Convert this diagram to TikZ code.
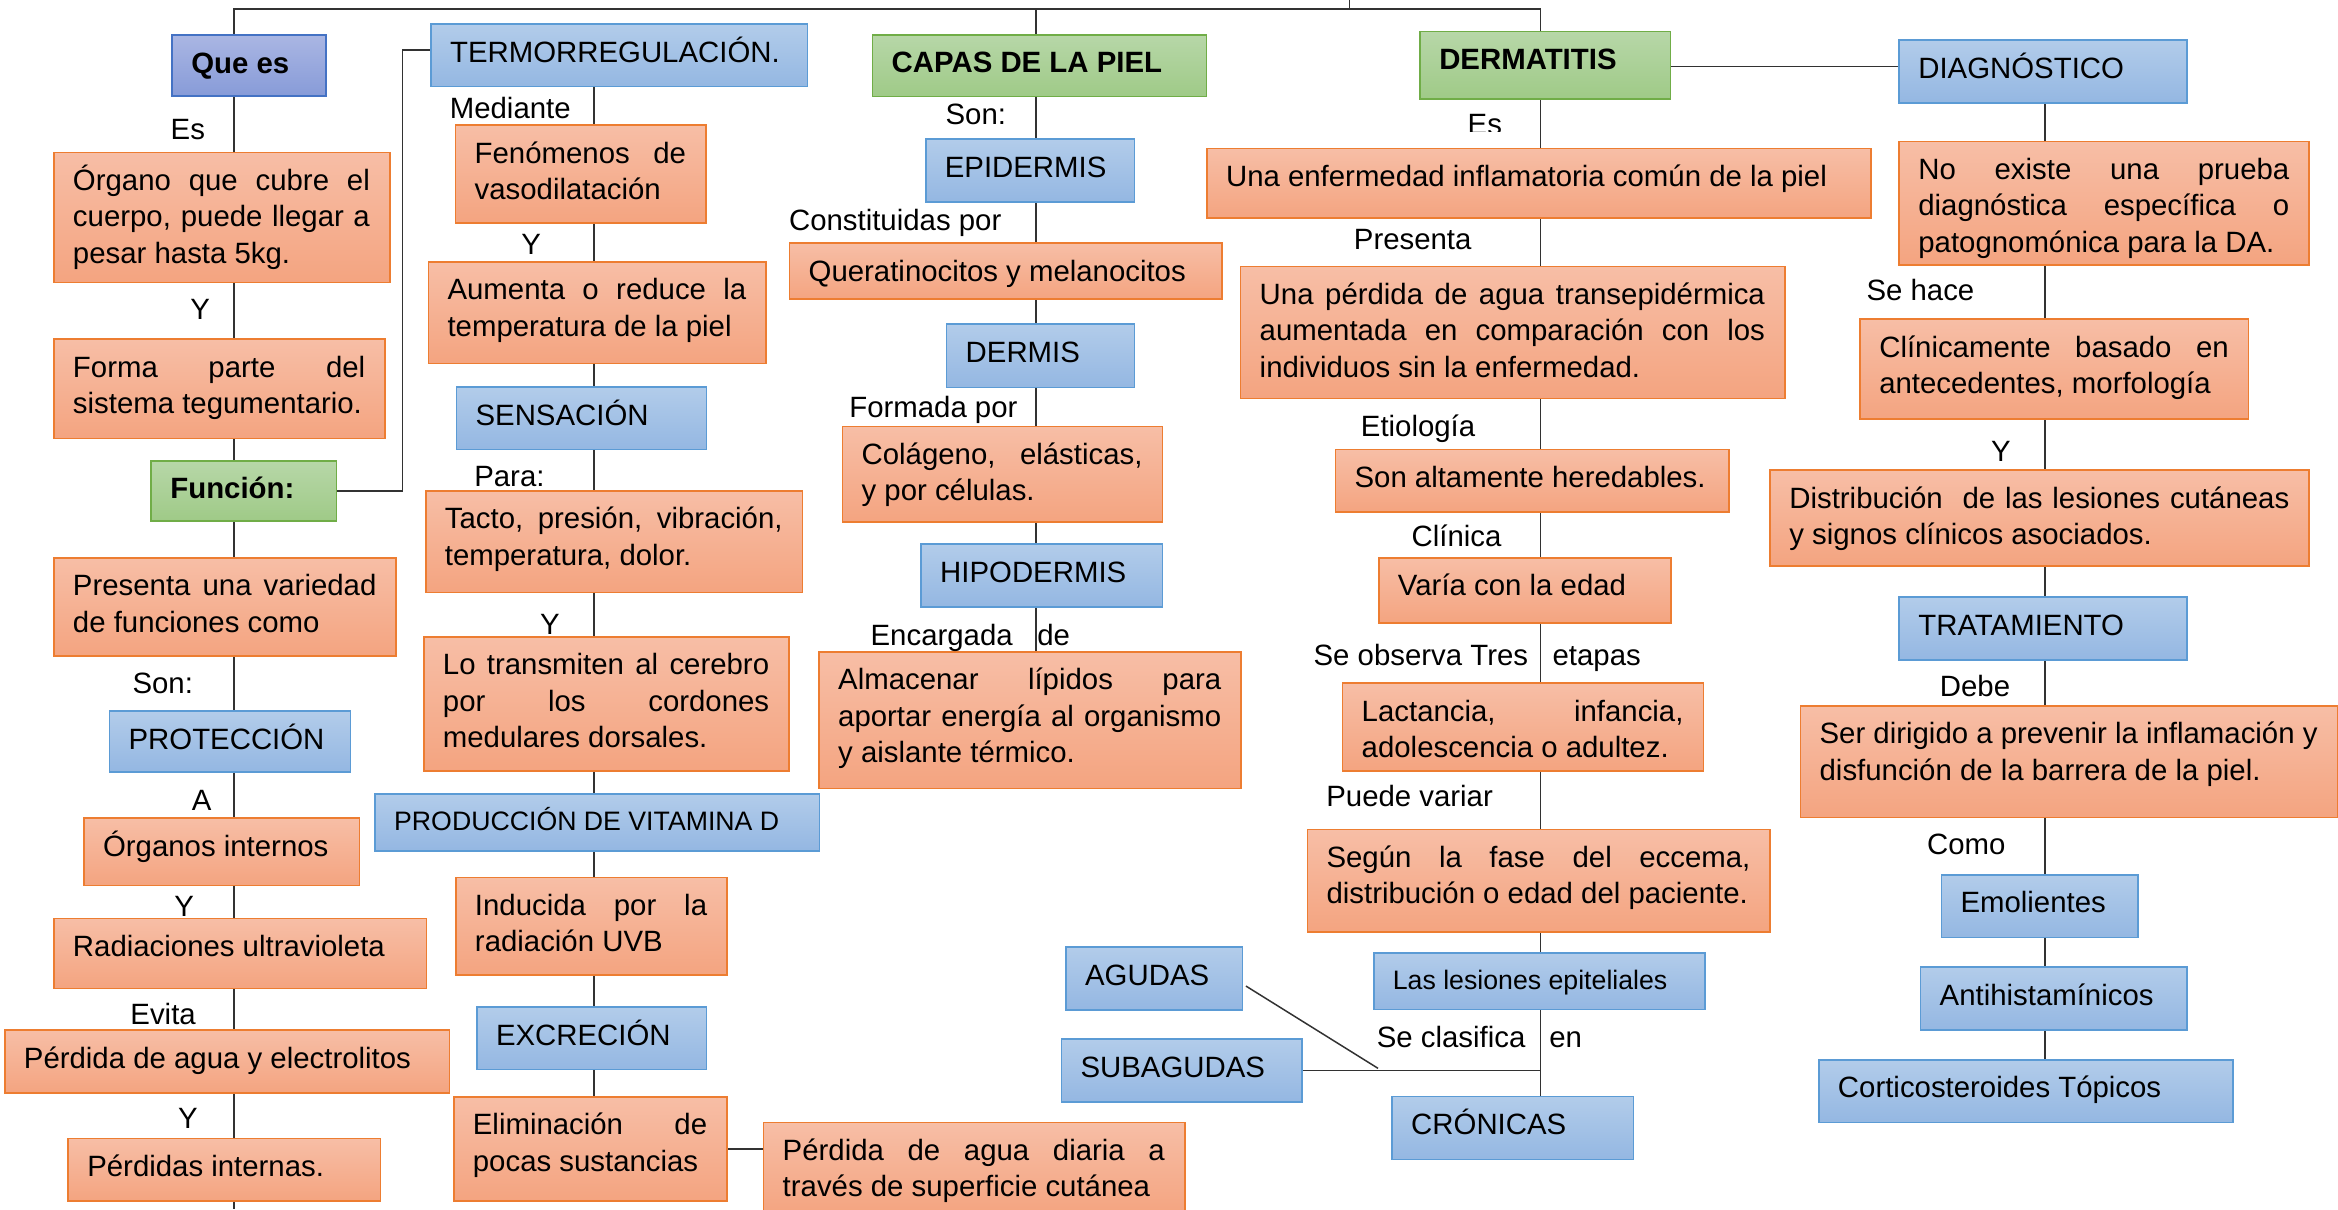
\documentclass[tikz,border=0pt]{standalone}
\usepackage{fontspec}
\setmainfont{Liberation Sans}
\usetikzlibrary{calc}
\pgfdeclarelayer{bg}
\pgfsetlayers{bg,main}
\definecolor{orT}{RGB}{247,190,166}
\definecolor{orB}{RGB}{244,164,128}
\definecolor{orD}{RGB}{237,125,49}
\definecolor{blT}{RGB}{178,204,234}
\definecolor{blB}{RGB}{148,183,226}
\definecolor{blD}{RGB}{91,155,213}
\definecolor{grT}{RGB}{183,215,168}
\definecolor{grB}{RGB}{159,202,135}
\definecolor{grD}{RGB}{112,173,71}
\definecolor{inT}{RGB}{170,182,227}
\definecolor{inB}{RGB}{135,155,216}
\definecolor{inD}{RGB}{68,114,196}
\definecolor{lineC}{RGB}{50,50,50}
\newlength\bxw
\newlength\bxh
\newcommand\jline[1]{\hbox to\hsize{\hskip12.8pt\strut#1\hskip13.3pt}}
\newcommand\rline[1]{\hbox{\hskip12.8pt\strut#1}}
\newcommand\cbox[7][]{%
  \setlength\bxw{\dimexpr#5pt-#3pt\relax}%
  \setlength\bxh{\dimexpr#6pt-#4pt\relax}%
  \node[cb,#1,anchor=north west] (#2) at (#3,#4) {\parbox[t][\bxh][t]{\bxw}{\hrule height0pt width\hsize\vskip8.5pt #7}};%
}
\tikzset{
  cb/.style={inner sep=0pt, line width=1.1pt, font=\fontsize{19.7}{24.3}\selectfont},
  orb/.style={top color=orT, bottom color=orB, draw=orD},
  blb/.style={top color=blT, bottom color=blB, draw=blD},
  grb/.style={top color=grT, bottom color=grB, draw=grD},
  inb/.style={top color=inT, bottom color=inB, draw=inD},
  smallfont/.style={font=\fontsize{17.9}{24.3}\selectfont},
  lbl/.style={inner sep=0pt, anchor=base west, font=\fontsize{19.7}{24.3}\selectfont},
  conn/.style={line width=1pt, draw=lineC},
}
\begin{document}
\begin{tikzpicture}[x=1pt,y=-1pt]
\useasboundingbox (0,0) rectangle (1568,811);
% spine coordinates
\coordinate (sL) at (157,0);
\coordinate (sM) at (398.5,0);
\coordinate (sC) at (694.8,0);
\coordinate (sD) at (1033,0);
\coordinate (sR) at (1371.4,0);
\coordinate (tt) at (905,0);
\coordinate (tj) at (905,6);
\coordinate (bot) at (0,811);
\coordinate (fj) at (270,33.5);
\coordinate (dj) at (0,44.7);
\coordinate (cj) at (924.2,716.5);

% ---------- left column
\cbox[inb]{quees}{115}{23}{218}{64}{\rline{\bfseries Que es}}
\cbox[orb]{organo}{35.6}{101.7}{260.8}{188.9}{\jline{Órgano que cubre el}\jline{cuerpo, puede llegar a}\rline{pesar hasta 5kg.}}
\cbox[orb]{forma}{35.6}{226.9}{257.7}{293.5}{\jline{Forma parte del}\rline{sistema tegumentario.}}
\cbox[grb]{func}{100.9}{308.5}{225.2}{349}{\rline{\bfseries Función:}}
\cbox[orb]{presenta}{35.6}{373.6}{265.2}{439.5}{\jline{Presenta una variedad}\rline{de funciones como}}
\cbox[blb]{protec}{72.9}{476.3}{234.4}{517.1}{\rline{PROTECCIÓN}}
\cbox[orb]{orgint}{55.8}{548.2}{240.6}{593.3}{\rline{Órganos internos}}
\cbox[orb]{radiac}{35.6}{615.5}{285.4}{662.4}{\rline{Radiaciones ultravioleta}}
\cbox[orb]{perdagua}{2.7}{690.2}{300.8}{732.6}{\rline{Pérdida de agua y electrolitos}}
\cbox[orb]{perdint}{45.2}{763}{254.6}{804.8}{\rline{Pérdidas internas.}}

% ---------- middle-left column
\cbox[blb]{termo}{288.5}{15.6}{541}{57.5}{\rline{TERMORREGULACIÓN.}}
\cbox[orb]{fenom}{305}{83.4}{472.9}{149}{\jline{Fenómenos de}\rline{vasodilatación}}
\cbox[orb]{aumenta}{286.8}{175}{513.3}{243.3}{\jline{Aumenta o reduce la}\rline{temperatura de la piel}}
\cbox[blb]{sensac}{305.6}{258.9}{473.2}{301}{\rline{SENSACIÓN}}
\cbox[orb]{tacto}{285}{328.6}{537.6}{396.8}{\jline{Tacto, presión, vibración,}\rline{temperatura, dolor.}}
\cbox[orb]{transm}{283.7}{426.5}{528.6}{516.4}{\jline{Lo transmiten al cerebro}\jline{por los cordones}\rline{medulares dorsales.}}
\cbox[blb,smallfont]{produc}{251}{532}{549}{570}{\vskip-1.2pt\rline{PRODUCCIÓN DE VITAMINA D}}
\cbox[orb]{induc}{305.2}{588}{487}{653.3}{\jline{Inducida por la}\rline{radiación UVB}}
\cbox[blb]{excrec}{319.3}{674.7}{473.3}{716.8}{\rline{EXCRECIÓN}}
\cbox[orb]{elim}{303.8}{735}{487}{804.8}{\jline{Eliminación de}\rline{pocas sustancias}}
\cbox[orb]{diaria}{511.6}{752.3}{794}{814}{\jline{Pérdida de agua diaria a}\rline{través de superficie cutánea}}

% ---------- capas column
\cbox[grb]{capas}{584.7}{22.8}{808.5}{64.2}{\rline{\bfseries CAPAS DE LA PIEL}}
\cbox[blb]{epid}{620.3}{92.8}{760.3}{134.8}{\rline{EPIDERMIS}}
\cbox[orb]{querat}{529}{162.5}{818.8}{200}{\rline{Queratinocitos y melanocitos}}
\cbox[blb]{dermis}{634.3}{216.8}{760.3}{259.4}{\rline{DERMIS}}
\cbox[orb]{colag}{564.5}{285.5}{779}{349.7}{\jline{Colágeno, elásticas,}\rline{y por células.}}
\cbox[blb]{hipo}{617.2}{364.4}{779}{406.4}{\rline{HIPODERMIS}}
\cbox[orb]{almac}{548.8}{436.6}{831.8}{528.3}{\jline{Almacenar lípidos para}\jline{aportar energía al organismo}\rline{y aislante térmico.}}

% ---------- dermatitis column
\cbox[grb]{derm}{951.9}{20.6}{1119.8}{65.9}{\rline{\bfseries DERMATITIS}}
\cbox[orb]{enferm}{808.9}{99}{1254.3}{145.8}{\rline{Una enfermedad inflamatoria común de la piel}}
\cbox[orb]{perdtr}{831.5}{178.2}{1196.4}{266.7}{\jline{Una pérdida de agua transepidérmica}\jline{aumentada en comparación con los}\rline{individuos sin la enfermedad.}}
\cbox[orb]{hered}{895.1}{300.9}{1158.8}{342.7}{\rline{Son altamente heredables.}}
\cbox[orb]{varia}{924.2}{373.6}{1120.2}{417.2}{\rline{Varía con la edad}}
\cbox[orb]{lact}{899.9}{457.6}{1141.8}{516.4}{\jline{Lactancia, infancia,}\rline{adolescencia o adultez.}}
\cbox[orb]{segun}{876.3}{555.8}{1186.7}{624.6}{\jline{Según la fase del eccema,}\rline{distribución o edad del paciente.}}
\cbox[blb,smallfont]{lesion}{920.8}{638.5}{1143.1}{676.5}{\vskip-0.8pt\rline{Las lesiones epiteliales}}
\cbox[blb]{agudas}{714.4}{634.7}{832.8}{677}{\rline{AGUDAS}}
\cbox[blb]{subag}{711.3}{696.4}{872.8}{738.7}{\rline{SUBAGUDAS}}
\cbox[blb]{cronic}{933.1}{734.9}{1094.9}{777.1}{\rline{CRÓNICAS}}

% ---------- right column
\cbox[blb]{diag}{1273.2}{26.2}{1466.3}{68.4}{\rline{DIAGNÓSTICO}}
\cbox[orb]{noex}{1273.2}{94.4}{1548.1}{177.1}{\jline{No existe una prueba}\jline{diagnóstica específica o}\rline{patognomónica para la DA.}}
\cbox[orb]{clinic}{1247}{213.5}{1507.5}{280.6}{\jline{Clínicamente basado en}\rline{antecedentes, morfología}}
\cbox[orb]{distrib}{1186.7}{314.8}{1548.1}{379.2}{\jline{Distribución\ \ de las lesiones cutáneas}\rline{y signos clínicos asociados.}}
\cbox[blb]{tratam}{1273.2}{400}{1466.3}{442.2}{\rline{TRATAMIENTO}}
\cbox[orb]{serdir}{1207}{472.8}{1567.5}{547.7}{\rline{Ser dirigido a prevenir la inflamación y}\rline{disfunción de la barrera de la piel.}}
\cbox[blb]{emol}{1301.5}{586.2}{1433.3}{628.2}{\rline{Emolientes}}
\cbox[blb]{antih}{1287.5}{648.1}{1466.3}{690.4}{\rline{Antihistamínicos}}
\cbox[blb]{cortic}{1219.3}{710.3}{1497.2}{752.3}{\rline{Corticosteroides Tópicos}}

% ---------- labels
\node[lbl] (l1) at (114.3,93.4) {Es};
\node[lbl] (l2) at (127.5,214) {Y};
\node[lbl] (l3) at (88.7,465) {Son:};
\node[lbl] (l4) at (128.5,543.3) {A};
\node[lbl] (l5) at (116.8,614.8) {Y};
\node[lbl] (l6) at (87.3,687.4) {Evita};
\node[lbl] (l7) at (119.2,756.7) {Y};
\node[lbl] (l8) at (301.5,79.4) {Mediante};
\node[lbl] (l9) at (349.5,171) {Y};
\node[lbl] (l10) at (317.9,326.4) {Para:};
\node[lbl] (l11) at (362.1,425.2) {Y};
\node[lbl] (l12) at (634,83.8) {Son:};
\node[lbl] (l13) at (529,154.7) {Constituidas por};
\node[lbl] (l14) at (569.4,279.9) {Formada por};
\node[lbl] (l15) at (583.7,432.6) {Encargada\hspace{16.5pt}de};
\begin{scope}
\clip (960,60) rectangle (1030,88.3);
\node[lbl] (l16) at (984.1,90.5) {Es};
\end{scope}
\node[lbl] (l17) at (907.8,167.2) {Presenta};
\node[lbl] (l18) at (912.5,292.9) {Etiología};
\node[lbl] (l19) at (946.5,366.2) {Clínica};
\node[lbl] (l20) at (880.8,446) {Se observa Tres\hspace{16.5pt}etapas};
\node[lbl] (l21) at (889.3,541) {Puede variar};
\node[lbl] (l22) at (923.2,702.4) {Se clasifica\hspace{16pt}en};
\node[lbl] (l23) at (1251.6,201.2) {Se hace};
\node[lbl] (l24) at (1335.2,309.6) {Y};
\node[lbl] (l25) at (1300.8,467.2) {Debe};
\node[lbl] (l26) at (1292.2,573.4) {Como};

% ---------- connectors
\begin{pgfonlayer}{bg}
\draw[conn] (tt) -- (tj);
\draw[conn] (quees.north -| sL) -- (sL |- tj) -- (sD |- tj) -- (derm.north -| sD);
\draw[conn] (sC |- tj) -- (capas.north -| sC);
\foreach \a/\b in {quees/organo,organo/forma,forma/func,func/presenta,presenta/protec,protec/orgint,orgint/radiac,radiac/perdagua,perdagua/perdint}
  \draw[conn] (\a.south -| sL) -- (\b.north -| sL);
\draw[conn] (perdint.south -| sL) -- (sL |- bot);
\draw[conn] (func.east) -- (func.east -| fj) -- (fj) -- (fj -| termo.west);
\foreach \a/\b in {termo/fenom,fenom/aumenta,aumenta/sensac,sensac/tacto,tacto/transm,transm/produc,produc/induc,induc/excrec,excrec/elim}
  \draw[conn] (\a.south -| sM) -- (\b.north -| sM);
\draw[conn] (elim.east) -- (elim.east -| diaria.west);
\foreach \a/\b in {capas/epid,epid/querat,querat/dermis,dermis/colag,colag/hipo,hipo/almac}
  \draw[conn] (\a.south -| sC) -- (\b.north -| sC);
\foreach \a/\b in {derm/enferm,enferm/perdtr,perdtr/hered,hered/varia,varia/lact,lact/segun,segun/lesion,lesion/cronic}
  \draw[conn] (\a.south -| sD) -- (\b.north -| sD);
\draw[conn] (subag.east) -- (subag.east -| sD);
\draw[conn] ([xshift=1.7pt,yshift=-4.9pt]agudas.east) -- (cj);
\draw[conn] (derm.east |- dj) -- (diag.west |- dj);
\foreach \a/\b in {diag/noex,noex/clinic,clinic/distrib,distrib/tratam,tratam/serdir,serdir/emol,emol/antih,antih/cortic}
  \draw[conn] (\a.south -| sR) -- (\b.north -| sR);
\end{pgfonlayer}
\end{tikzpicture}
\end{document}
